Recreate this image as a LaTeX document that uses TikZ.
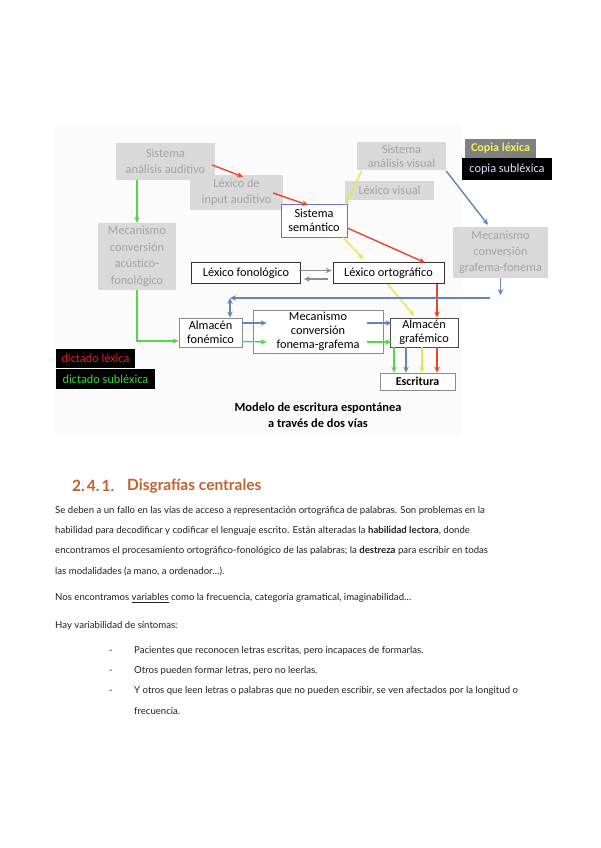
\documentclass[tikz,border=0pt]{standalone}
\usepackage{fontspec}
\setmainfont{Lato}
\newfontfamily\diag{Carlito}
\usetikzlibrary{arrows.meta,calc}
\definecolor{boxgray}{HTML}{D9D9D9}
\definecolor{txtgray}{HTML}{A3A3A3}
\definecolor{arrred}{HTML}{E8452C}
\definecolor{arryel}{HTML}{E6E64A}
\definecolor{arrgrn}{HTML}{55D646}
\definecolor{arrblu}{HTML}{6385BA}
\definecolor{arrgry}{HTML}{8C8C8C}
\definecolor{semborder}{HTML}{6F6FC8}
\definecolor{headorange}{HTML}{C0612E}
\definecolor{copyel}{HTML}{F2F250}
\definecolor{copblu}{HTML}{D6E4FF}
\definecolor{dicred}{HTML}{E0202A}
\definecolor{dicgrn}{HTML}{3CD83C}
\definecolor{bodytxt}{HTML}{202020}
\begin{document}
\begin{tikzpicture}[x=1pt,y=-1pt,
  dfont/.style={font=\diag\fontsize{12.3}{15.8}\selectfont},
  gbox/.style={dfont, fill=boxgray, text=txtgray, align=center, inner sep=0pt},
  wbox/.style={dfont, draw=#1, fill=white, text=black, align=center, inner sep=0pt, line width=0.8pt},
  lbox/.style={dfont, fill=black, align=center, inner sep=0pt},
  arr/.style={draw=#1, line width=1.4pt, -{Stealth[length=6pt,width=5.5pt]}},
  barr/.style={draw=#1, line width=1.4pt, {Stealth[length=6pt,width=5.5pt]}-{Stealth[length=6pt,width=5.5pt]}},
  btxt/.style={anchor=west, inner sep=0pt, text=bodytxt, font=\fontsize{9.6}{11}\selectfont},
]
\useasboundingbox (0,0) rectangle (600,848);
\fill[white] (0,0) rectangle (600,848);
\fill[black!1.5] (55,125) rectangle (462,435);

% ---------- diagram nodes ----------
\node[gbox, minimum width=99, minimum height=37] (saa) at (165.5,161.5) {Sistema\\análisis auditivo};
\node[gbox, minimum width=93, minimum height=35] (lia) at (236.5,192.5) {Léxico de\\input auditivo};
\node[wbox=semborder, minimum width=66, minimum height=33, font=\diag\fontsize{12.3}{14}\selectfont] (ss) at (314,220.5) {Sistema\\semántico};
\node[gbox, minimum width=89, minimum height=28, font=\diag\fontsize{12.3}{14}\selectfont] (sav) at (401.5,156) {Sistema\\análisis visual};
\node[gbox, minimum width=89, minimum height=19] (lv) at (389.5,190.5) {Léxico visual};
\node[lbox, fill=black!50, text=copyel, minimum width=71, minimum height=19, font=\diag\bfseries\fontsize{12}{14}\selectfont] (cl) at (500.5,148.5) {Copia léxica};
\node[lbox, text=copblu, minimum width=90, minimum height=22] (cs) at (507,169) {copia subléxica};
\node[gbox, minimum width=95, minimum height=51] (mgf) at (500.5,252.5) {Mecanismo\\conversión\\grafema-fonema};
\node[gbox, minimum width=78, minimum height=67, font=\diag\fontsize{12.3}{16.5}\selectfont] (maf) at (137,256.5) {Mecanismo\\conversión\\acústico-\\fonológico};
\node[wbox=black!80, minimum width=109, minimum height=21] (lf) at (246,273) {Léxico fonológico};
\node[wbox=black!80, minimum width=111, minimum height=21] (lo) at (388.5,273) {Léxico ortográfico};
\node[wbox=black!45, minimum width=63, minimum height=29, font=\diag\fontsize{12.3}{14}\selectfont] (af) at (210.5,332.5) {Almacén\\fonémico};
\node[wbox=black!45, minimum width=130, minimum height=43, font=\diag\fontsize{12.3}{14}\selectfont] (mfg) at (318,331.5) {Mecanismo\\conversión\\fonema-grafema};
\node[wbox=black!70, minimum width=68, minimum height=29, font=\diag\fontsize{12.3}{14}\selectfont] (ag) at (424,332.5) {Almacén\\grafémico};
\node[wbox=black!45, minimum width=75, minimum height=17, font=\diag\bfseries\fontsize{12}{14}\selectfont] (esc) at (417.5,381.5) {Escritura};
\node[lbox, text=dicred, minimum width=79, minimum height=19] (dl) at (95.5,358.5) {dictado léxica};
\node[lbox, text=dicgrn, minimum width=99, minimum height=20] (ds) at (105.5,379) {dictado subléxica};
\node[font=\diag\bfseries\fontsize{12.4}{16}\selectfont, align=center, inner sep=0pt] (cap) at (318,415) {Modelo de escritura espontánea\\a través de dos vías};

% ---------- red (léxica) ----------
\draw[arr=arrred] ($(saa.east)+(-3,3.5)$) -- ($(lia.north)+(6.5,2)$);
\draw[arr=arrred] ($(lia.east)+(-10,0.5)$) -- ($(ss.north)+(-6,1.5)$);
\draw[arr=arrred] ($(ss.east)+(0,7.5)$) -- ($(lo.north)+(36.5,0.5)$);
\draw[arr=arrred] ($(lo.south)+(48.5,0)$) -- ($(ag.north)+(13,0)$);
\draw[arr=arrred] ($(ag.south)+(13,0)$) -- ($(esc.north)+(19.5,0)$);
% ---------- yellow (copia léxica) ----------
\draw[arr=arryel] ($(sav.south)+(-40,1)$) -- ($(ss.north)+(31,1.5)$);
\draw[arr=arryel] ($(ss.south)+(29,0)$) -- ($(lo.north)+(-25,-3)$);
\draw[arr=arryel] ($(lo.south)+(-0.5,0.5)$) -- ($(ag.north)+(-10,-2)$);
\draw[arr=arryel] ($(ag.south)+(-2,0)$) -- ($(esc.north)+(4.5,0)$);
% ---------- green (dictado subléxica) ----------
\draw[arr=arrgrn] (saa.south -| maf.north) -- (maf.north);
\draw[arr=arrgrn] (maf.south) |- ($(af.west)+(0,8.5)$);
\draw[arr=arrgrn] ($(af.east)+(0,9)$) -- ($(mfg.west)+(14,10.5)$);
\draw[arr=arrgrn] ($(mfg.east)+(-16,10.5)$) -- ($(ag.west)+(2,9.5)$);
\draw[arr=arrgrn] ($(ag.south)+(-30,0)$) -- ($(esc.north)+(-23.5,0)$);
% ---------- blue (copia subléxica) ----------
\draw[arr=arrblu] ($(sav.east)+(0,15)$) -- ($(mgf.north)+(-12.5,-2)$);
\coordinate (bright) at (490,298);
\coordinate (bleft) at (230,298);
\draw[arr=arrblu] (mgf.south) -- ($(mgf.south)+(0,17)$);
\draw[arr=arrblu] (bright) -- (bleft);
\draw[barr=arrblu] (bleft) -- (bleft |- af.north);
\draw[arr=arrblu] ($(af.east)+(0,-9.5)$) -- ($(mfg.west)+(14,-8.5)$);
\draw[arr=arrblu] ($(mfg.east)+(-16,-8.5)$) -- ($(ag.west)+(2,-9.5)$);
\draw[arr=arrblu] ($(ag.south)+(-18,0)$) -- ($(esc.north)+(-11.5,0)$);
% ---------- gray (fonológico <-> ortográfico) ----------
\draw[arr=arrgry, line width=1.2pt] ($(lf.east)+(-2,-2.5)$) -- ($(lo.west)+(-1,-2.5)$);
\draw[arr=arrgry, line width=1.2pt] ($(lo.west)+(-5,6)$) -- ($(lf.east)+(3,6)$);

% ---------- text section ----------
\node[anchor=west, inner sep=0pt, text=headorange, font=\bfseries\fontsize{15.5}{18}\selectfont] (h1) at (72,486) {2.\kern2pt4.\kern2pt1.};
\node[anchor=west, inner sep=0pt, text=headorange, font=\bfseries\fontsize{15.5}{18}\selectfont] (h2) at (127,486) {Disgrafías centrales};
\node[btxt] (l1) at (55,511) {Se deben a un fallo en las vías de acceso a representación ortográfica de palabras. Son problemas en la};
\node[btxt] (l2) at (55,531) {habilidad para decodificar y codificar el lenguaje escrito. Están alteradas la \textbf{habilidad lectora}, donde};
\node[btxt] (l3) at (55,551) {encontramos el procesamiento ortográfico-fonológico de las palabras; la \textbf{destreza} para escribir en todas};
\node[btxt] (l4) at (55,571) {las modalidades (a mano, a ordenador…).};
\node[btxt] (l5) at (55,598) {Nos encontramos \underline{variables} como la frecuencia, categoría gramatical, imaginabilidad…};
\node[btxt] (l6) at (55,626) {Hay variabilidad de síntomas:};
\node[btxt] (d1) at (109,652) {-};
\node[btxt] (b1) at (134,651) {Pacientes que reconocen letras escritas, pero incapaces de formarlas.};
\node[btxt] (d2) at (109,672) {-};
\node[btxt] (b2) at (134,671) {Otros pueden formar letras, pero no leerlas.};
\node[btxt] (d3) at (109,692) {-};
\node[btxt] (b3) at (134,691) {Y otros que leen letras o palabras que no pueden escribir, se ven afectados por la longitud o};
\node[btxt] (b4) at (134,711) {frecuencia.};
\end{tikzpicture}
\end{document}
